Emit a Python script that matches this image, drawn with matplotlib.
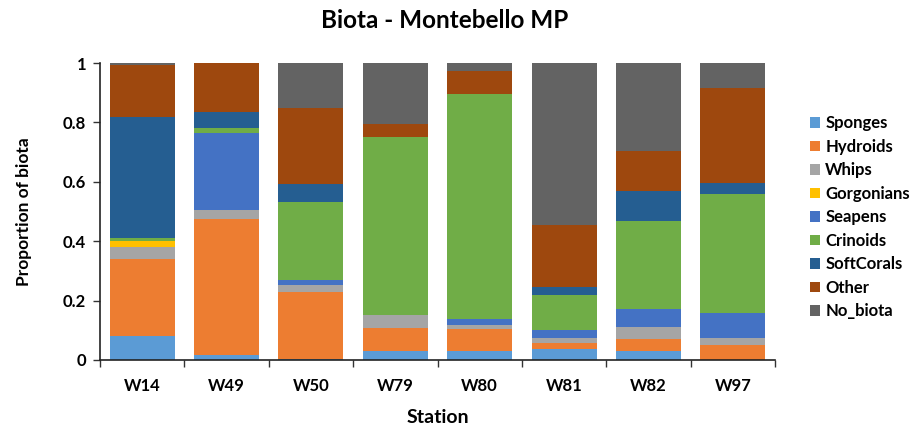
import matplotlib
import numpy as np

matplotlib.use("Agg")
import matplotlib.pyplot as plt

plt.rcParams["font.family"] = ["Lato", "DejaVu Sans"]
plt.rcParams["font.weight"] = "bold"

stations = ["W14", "W49", "W50", "W79", "W80", "W81", "W82", "W97"]
groups = ["Sponges", "Hydroids", "Whips", "Gorgonians", "Seapens",
          "Crinoids", "SoftCorals", "Other", "No_biota"]

sponges = [0.080, 0.017, 0.003, 0.030, 0.030, 0.036, 0.029, 0.000]
hydroids = [0.260, 0.459, 0.227, 0.079, 0.076, 0.020, 0.041, 0.050]
whips = [0.040, 0.030, 0.023, 0.042, 0.011, 0.019, 0.042, 0.025]
gorgonians = [0.020, 0.000, 0.000, 0.000, 0.000, 0.000, 0.000, 0.000]
seapens = [0.000, 0.257, 0.017, 0.000, 0.021, 0.025, 0.059, 0.083]
crinoids = [0.012, 0.017, 0.262, 0.601, 0.758, 0.119, 0.296, 0.402]
soft_corals = [0.405, 0.054, 0.062, 0.000, 0.000, 0.026, 0.101, 0.037]
other = [0.175, 0.166, 0.255, 0.043, 0.076, 0.210, 0.136, 0.319]
no_biota = [0.008, 0.000, 0.151, 0.205, 0.028, 0.545, 0.296, 0.084]

colors = ["#5B9BD5", "#ED7D31", "#A5A5A5", "#FFC000", "#4472C4",
          "#70AD47", "#255E91", "#9E480E", "#636363"]

series = [sponges, hydroids, whips, gorgonians, seapens,
          crinoids, soft_corals, other, no_biota]

fig = plt.figure(figsize=(9.14, 4.28), dpi=100)
ax = fig.add_axes([100 / 914, 68 / 428, 675 / 914, 297 / 428])

x = np.arange(len(stations))
bottom = np.zeros(len(stations))
for name, values, color in zip(groups, series, colors):
    ax.bar(x, values, bottom=bottom, width=0.77, color=color, label=name)
    bottom += np.array(values)

ax.set_xlim(-0.5, len(stations) - 0.5)
ax.set_ylim(0, 1)
ax.set_yticks([0, 0.2, 0.4, 0.6, 0.8, 1.0])
ax.set_yticklabels(["0", "0.2", "0.4", "0.6", "0.8", "1"])
ax.set_xticks(x)
ax.set_xticklabels(stations)
ax.set_xticks(np.arange(-0.5, len(stations)), minor=True)
ax.tick_params(axis="x", which="major", length=0, pad=13, labelsize=12)
ax.tick_params(axis="x", which="minor", length=5, width=1, color="#333333")
ax.tick_params(axis="y", length=5, width=1, pad=5, labelsize=12, color="#333333")

for side in ["top", "right"]:
    ax.spines[side].set_visible(False)
for side in ["left", "bottom"]:
    ax.spines[side].set_color("#222222")
    ax.spines[side].set_linewidth(1.2)

fig.text(445 / 914, 1 - 20 / 428, "Biota - Montebello MP", fontsize=17.5,
         fontweight="bold", ha="center", va="center")
ax.set_xlabel("Station", fontsize=14, fontweight="bold")
ax.xaxis.set_label_coords(0.5, -0.165)
ax.set_ylabel("Proportion of biota", fontsize=12.5, fontweight="bold")
ax.yaxis.set_label_coords(-0.10, 0.5)

ax.legend(loc="center left", bbox_to_anchor=(1.03, 0.48), frameon=False,
          fontsize=12, handlelength=0.6, handleheight=0.6,
          handletextpad=0.3, labelspacing=0.45)

fig.savefig("out.png", dpi=100)
